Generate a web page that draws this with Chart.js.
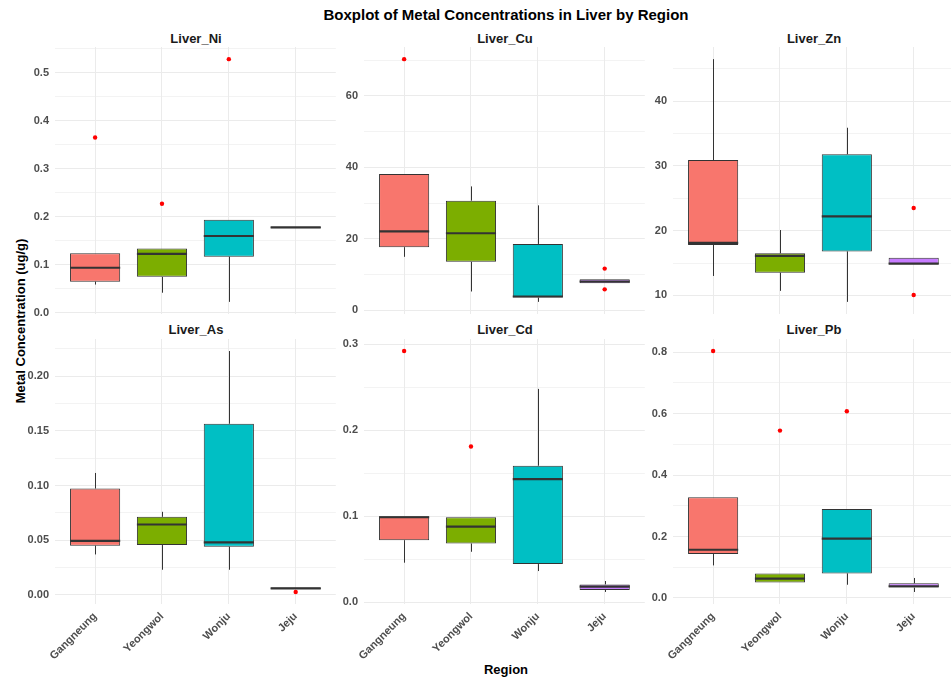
<!DOCTYPE html>
<html>
<head>
<meta charset="utf-8">
<script src="https://cdn.jsdelivr.net/npm/chart.js@4"></script>
<style>
  html, body { margin: 0; padding: 0; background: #ffffff; }
  body { width: 951px; height: 681px; position: relative; overflow: hidden;
         font-family: "Liberation Sans", Arial, sans-serif; }
  .lbl { position: absolute; transform: translate(-50%, -50%); white-space: nowrap;
         font-weight: bold; color: #000; }
  .strip { font-size: 13px; color: #1a1a1a; }
  canvas.panel { position: absolute; }
</style>
</head>
<body>
<div class="lbl" style="left:506px;top:14px;font-size:15px;">Boxplot of Metal Concentrations in Liver by Region</div>
<div class="lbl" style="left:20px;top:321px;font-size:13px;transform:translate(-50%,-50%) rotate(-90deg);">Metal Concentration (ug/g)</div>
<div class="lbl" style="left:506px;top:669px;font-size:13px;">Region</div>

<div class="lbl strip" style="left:196px;top:38px;">Liver_Ni</div>
<div class="lbl strip" style="left:505px;top:38px;">Liver_Cu</div>
<div class="lbl strip" style="left:814px;top:38px;">Liver_Zn</div>
<div class="lbl strip" style="left:196px;top:329px;">Liver_As</div>
<div class="lbl strip" style="left:505px;top:329px;">Liver_Cd</div>
<div class="lbl strip" style="left:814px;top:329px;">Liver_Pb</div>

<canvas class="panel" id="ni" style="left:15px;top:40px;width:323px;height:280px;"></canvas>
<canvas class="panel" id="cu" style="left:324px;top:40px;width:323px;height:280px;"></canvas>
<canvas class="panel" id="zn" style="left:633px;top:40px;width:323px;height:280px;"></canvas>
<canvas class="panel" id="as" style="left:15px;top:332px;width:323px;height:330px;"></canvas>
<canvas class="panel" id="cd" style="left:324px;top:332px;width:323px;height:330px;"></canvas>
<canvas class="panel" id="pb" style="left:633px;top:332px;width:323px;height:330px;"></canvas>

<script>
// Regions on the x axis and their fill colours
const regions = ['Gangneung', 'Yeongwol', 'Wonju', 'Jeju'];
const regionColors = ['#F8766D', '#7CAE00', '#00BFC4', '#C77CFF'];

// Box summaries per region: [lower whisker, Q1, median, Q3, upper whisker]
const niStats = [
  [0.059, 0.065, 0.094, 0.124, 0.124],
  [0.042, 0.075, 0.123, 0.134, 0.134],
  [0.023, 0.117, 0.160, 0.194, 0.194],
  [0.176, 0.176, 0.178, 0.179, 0.179]
];
const niOutliers = [[0, 0.365], [1, 0.227], [2, 0.528]];
const niTicks = [0, 0.1, 0.2, 0.3, 0.4, 0.5];
const niTickLabels = ['0.0', '0.1', '0.2', '0.3', '0.4', '0.5'];

const cuStats = [
  [15.0, 17.7, 22.1, 38.2, 38.2],
  [5.3, 13.6, 21.6, 30.7, 34.7],
  [2.4, 3.6, 3.9, 18.6, 29.4],
  [7.6, 7.6, 8.1, 8.7, 8.7]
];
const cuOutliers = [[0, 70.3], [3, 11.7], [3, 5.9]];
const cuTicks = [0, 20, 40, 60];
const cuTickLabels = ['0', '20', '40', '60'];

const znStats = [
  [13.0, 17.8, 18.1, 30.9, 46.5],
  [10.7, 13.5, 16.1, 16.5, 20.1],
  [9.0, 16.8, 22.2, 31.8, 35.9],
  [14.8, 14.8, 14.9, 15.8, 15.8]
];
const znOutliers = [[3, 23.5], [3, 10.05]];
const znTicks = [10, 20, 30, 40];
const znTickLabels = ['10', '20', '30', '40'];

const asStats = [
  [0.037, 0.045, 0.0495, 0.0973, 0.1115],
  [0.023, 0.0456, 0.0644, 0.0714, 0.076],
  [0.023, 0.0441, 0.048, 0.1565, 0.223],
  [0.0055, 0.0055, 0.006, 0.0067, 0.0067]
];
const asOutliers = [[3, 0.0027]];
const asTicks = [0, 0.05, 0.10, 0.15, 0.20];
const asTickLabels = ['0.00', '0.05', '0.10', '0.15', '0.20'];

const cdStats = [
  [0.046, 0.0722, 0.0988, 0.100, 0.100],
  [0.0587, 0.0683, 0.088, 0.0988, 0.0988],
  [0.0363, 0.0444, 0.1432, 0.1587, 0.248],
  [0.012, 0.0143, 0.0181, 0.0208, 0.0247]
];
const cdOutliers = [[0, 0.292], [1, 0.181]];
const cdTicks = [0, 0.1, 0.2, 0.3];
const cdTickLabels = ['0.0', '0.1', '0.2', '0.3'];

const pbStats = [
  [0.106, 0.143, 0.157, 0.328, 0.328],
  [0.050, 0.050, 0.063, 0.080, 0.080],
  [0.043, 0.080, 0.193, 0.290, 0.290],
  [0.0195, 0.0336, 0.038, 0.0477, 0.065]
];
const pbOutliers = [[0, 0.804], [1, 0.545], [2, 0.608]];
const pbTicks = [0, 0.2, 0.4, 0.6, 0.8];
const pbTickLabels = ['0.0', '0.2', '0.4', '0.6', '0.8'];

const TICK_FONT = { family: '"Liberation Sans", Arial, sans-serif', size: 11, weight: 'bold' };
const GRID = '#EBEBEB';
const INK = '#333333';

// Whiskers are drawn beneath the boxes, medians on top of them
const boxWhiskers = {
  id: 'boxWhiskers',
  beforeDatasetsDraw(chart) {
    const ds = chart.data.datasets.find(d => d.boxStats);
    const meta = chart.getDatasetMeta(chart.data.datasets.indexOf(ds));
    const y = chart.scales.y, ctx = chart.ctx;
    ctx.save();
    ctx.strokeStyle = INK;
    ctx.lineWidth = 1;
    meta.data.forEach((bar, i) => {
      const s = ds.boxStats[i];
      const x = Math.round(bar.x) + 0.5;
      ctx.beginPath();
      ctx.moveTo(x, y.getPixelForValue(s[0]));
      ctx.lineTo(x, y.getPixelForValue(s[1]));
      ctx.moveTo(x, y.getPixelForValue(s[3]));
      ctx.lineTo(x, y.getPixelForValue(s[4]));
      ctx.stroke();
    });
    ctx.restore();
  },
  afterDatasetDraw(chart, args) {
    const ds = chart.data.datasets[args.index];
    if (!ds.boxStats) return;
    const y = chart.scales.y, ctx = chart.ctx;
    ctx.save();
    ctx.strokeStyle = INK;
    ctx.lineWidth = 2.2;
    args.meta.data.forEach((bar, i) => {
      const py = y.getPixelForValue(ds.boxStats[i][2]);
      ctx.beginPath();
      ctx.moveTo(bar.x - bar.width / 2, py);
      ctx.lineTo(bar.x + bar.width / 2, py);
      ctx.stroke();
    });
    ctx.restore();
  }
};

// keep overhanging tick labels from shrinking the plotting area
function noOverhang(axis) {
  axis.paddingTop = 0;
  axis.paddingBottom = 0;
  axis.paddingLeft = 0;
  axis.paddingRight = 0;
}

function makePanel(id, stats, outliers, ticks, tickLabels, showX) {
  // y range: data extent padded by 5% on each side
  const vals = stats.flat().concat(outliers.map(o => o[1]));
  const lo = Math.min(...vals), hi = Math.max(...vals);
  const pad = (hi - lo) * 0.05;
  const yMin = lo - pad, yMax = hi + pad;
  const step = ticks[1] - ticks[0];
  const eps = step * 1e-6;
  const minors = [ticks[0] - step / 2].concat(ticks.map(t => t + step / 2));
  const gridVals = ticks.concat(minors).filter(v => v >= yMin && v <= yMax).sort((a, b) => a - b);
  const isMajor = v => ticks.some(t => Math.abs(t - v) < eps);

  new Chart(document.getElementById(id), {
    type: 'bar',
    data: {
      datasets: [
        {
          type: 'scatter',
          order: 0,
          data: outliers.map(o => ({ x: o[0], y: o[1] })),
          backgroundColor: '#FF0000',
          borderWidth: 0,
          pointRadius: 2.2,
          pointHoverRadius: 2.2
        },
        {
          type: 'bar',
          order: 1,
          boxStats: stats,
          data: stats.map((s, i) => ({ x: i, y: [s[1], s[3]] })),
          backgroundColor: regionColors,
          borderColor: INK,
          borderWidth: 1,
          borderSkipped: false,
          categoryPercentage: 1,
          barPercentage: 0.75
        }
      ]
    },
    options: {
      responsive: false,
      maintainAspectRatio: false,
      animation: false,
      events: [],
      layout: { padding: { top: 7, right: 0, bottom: 0, left: 0 } },
      plugins: { legend: { display: false }, tooltip: { enabled: false } },
      scales: {
        x: {
          type: 'linear',
          min: -0.6,
          max: 3.6,
          offset: false,
          afterBuildTicks: axis => { axis.ticks = regions.map((r, i) => ({ value: i })); },
          afterFit: axis => { axis.height = showX ? 58 : 6; noOverhang(axis); },
          grid: { color: GRID, lineWidth: 1, drawTicks: false, offset: false },
          border: { display: false },
          ticks: {
            display: showX,
            autoSkip: false,
            minRotation: 45,
            maxRotation: 45,
            padding: 6,
            color: '#4D4D4D',
            font: TICK_FONT,
            callback: v => regions[v]
          }
        },
        y: {
          type: 'linear',
          min: yMin,
          max: yMax,
          beginAtZero: false,
          afterBuildTicks: axis => { axis.ticks = gridVals.map(v => ({ value: v })); },
          afterFit: axis => { axis.width = 40; noOverhang(axis); },
          grid: {
            color: GRID,
            drawTicks: false,
            lineWidth: c => (c.tick && isMajor(c.tick.value)) ? 1.1 : 0.6
          },
          border: { display: false },
          ticks: {
            autoSkip: false,
            padding: 6,
            color: '#4D4D4D',
            font: TICK_FONT,
            callback: v => {
              const k = ticks.findIndex(t => Math.abs(t - v) < eps);
              return k >= 0 ? tickLabels[k] : '';
            }
          }
        }
      }
    },
    plugins: [boxWhiskers]
  });
}

// size the canvases to their CSS boxes
document.querySelectorAll('canvas.panel').forEach(c => {
  c.width = parseInt(c.style.width);
  c.height = parseInt(c.style.height);
});

makePanel('ni', niStats, niOutliers, niTicks, niTickLabels, false);
makePanel('cu', cuStats, cuOutliers, cuTicks, cuTickLabels, false);
makePanel('zn', znStats, znOutliers, znTicks, znTickLabels, false);
makePanel('as', asStats, asOutliers, asTicks, asTickLabels, true);
makePanel('cd', cdStats, cdOutliers, cdTicks, cdTickLabels, true);
makePanel('pb', pbStats, pbOutliers, pbTicks, pbTickLabels, true);
</script>
</body>
</html>
